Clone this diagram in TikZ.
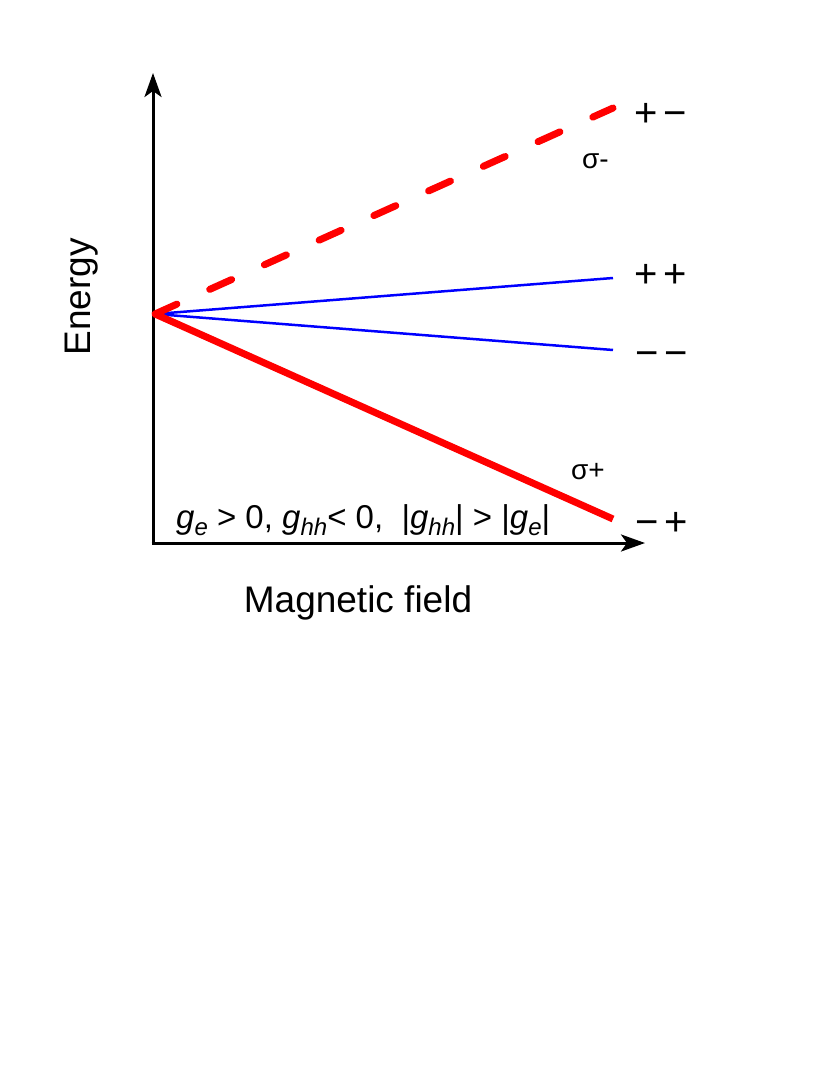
\documentclass[tikz,border=0pt]{standalone}
\usepackage{fontspec}
\setmainfont{Liberation Sans}
\usetikzlibrary{arrows.meta}
\newcommand{\subtxt}[1]{\raisebox{-7pt}{\fontsize{24}{28}\selectfont\textit{#1}}}
\begin{document}
\begin{tikzpicture}[x=1pt,y=-1pt,
  axis/.style={line width=3pt,-{Stealth[length=24pt,width=17pt,inset=6pt]}},
  redsolid/.style={red,line width=7pt},
  reddash/.style={red,line width=7pt,line cap=round,dash pattern=on 24pt off 36pt},
  blueline/.style={blue,line width=2.5pt},
  axlabel/.style={font=\fontsize{37}{44}\selectfont,inner sep=0pt},
  statelabel/.style={font=\fontsize{40}{48}\selectfont,inner sep=0pt,anchor=base west},
  siglabel/.style={font=\fontsize{28}{33}\selectfont,inner sep=0pt,anchor=base west},
  condlabel/.style={font=\fontsize{33}{40}\selectfont,inner sep=0pt,anchor=base west}]
\useasboundingbox (0,0) rectangle (830,1075);
\coordinate (O) at (153,543);
\coordinate (ytip) at (153,73);
\coordinate (xtip) at (645,543);
\coordinate (S) at (155,314);
\coordinate (pm) at (613,108);
\coordinate (pp) at (613,278);
\coordinate (mm) at (613,350);
\coordinate (mp) at (613,519);
\draw[axis] (O) -- (ytip);
\draw[axis] ([xshift=-1.5pt]O) -- (xtip);
\draw[blueline] (S) -- (pp);
\draw[blueline] (S) -- (mm);
\draw[reddash] (S) -- (pm);
\draw[redsolid] (S) -- (mp);
\node[statelabel] (lpm) at (634,127) {+\kern6pt−};
\node[statelabel] (lpp) at (634,287) {+\kern6pt+};
\node[statelabel] (lmm) at (635,366) {−\kern6pt−};
\node[statelabel] (lmp) at (635,535) {−\kern6pt+};
\node[siglabel] (sm) at (582,169) {σ-};
\node[siglabel] (sp) at (571,479) {σ+};
\node[condlabel] (cond) at (176,528) {\textit{g}\subtxt{e} > 0, \textit{g}\subtxt{hh}< 0, \ |\textit{g}\subtxt{hh}| > |\textit{g}\subtxt{e}|};
\node[axlabel] (xl) at (358,603) {Magnetic field};
\node[axlabel,rotate=90] (yl) at (82,297) {Energy};
\end{tikzpicture}
\end{document}
